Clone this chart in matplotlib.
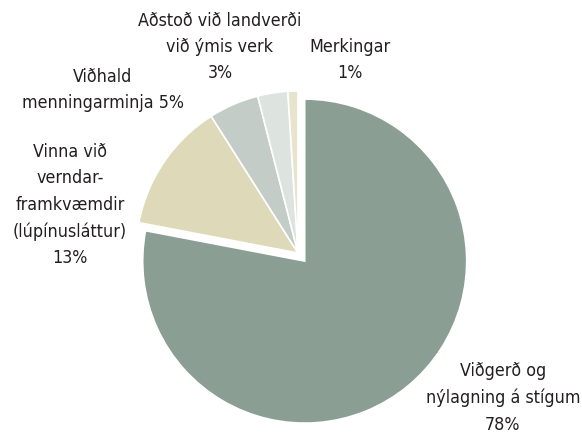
import matplotlib
matplotlib.use("Agg")
import matplotlib.pyplot as plt

# shares of total cost, drawn clockwise from 12 o'clock
labels = [
    "Viðgerð og\nnýlagning á stígum\n78%",
    "Vinna við\nverndar-\nframkvæmdir\n(lúpínusláttur)\n13%",
    "Viðhald\nmenningarminja 5%",
    "Aðstoð við landverði\nvið ýmis verk\n3%",
    "Merkingar\n1%",
]
values = [78, 13, 5, 3, 1]
colors = ["#8a9e93", "#dedab9", "#c3ccc6", "#dde3df", "#e7e3cd"]

# label anchors in pixel coords (x, y from top)
label_pos = [(503, 398), (70, 205), (103, 90), (220, 47), (350, 60)]

W, H = 582, 434
fig = plt.figure(figsize=(W / 100, H / 100), dpi=100)
ax = fig.add_axes([0, 0, 1, 1])

ax.pie(values, colors=colors, startangle=90, counterclock=False,
       center=(298, H - 253), radius=162, explode=[10.5, 0, 0, 0, 0],
       wedgeprops=dict(edgecolor="white", linewidth=1.2), frame=True)
ax.set_xlim(0, W)
ax.set_ylim(0, H)
ax.set_aspect("equal")
ax.axis("off")

for text, (x, y) in zip(labels, label_pos):
    ax.text(x, H - y, text, ha="center", va="center", fontsize=12.8,
            family="DejaVu Sans", fontstretch="condensed",
            color="#231f20", linespacing=1.6)

fig.savefig("out.png", dpi=100)
